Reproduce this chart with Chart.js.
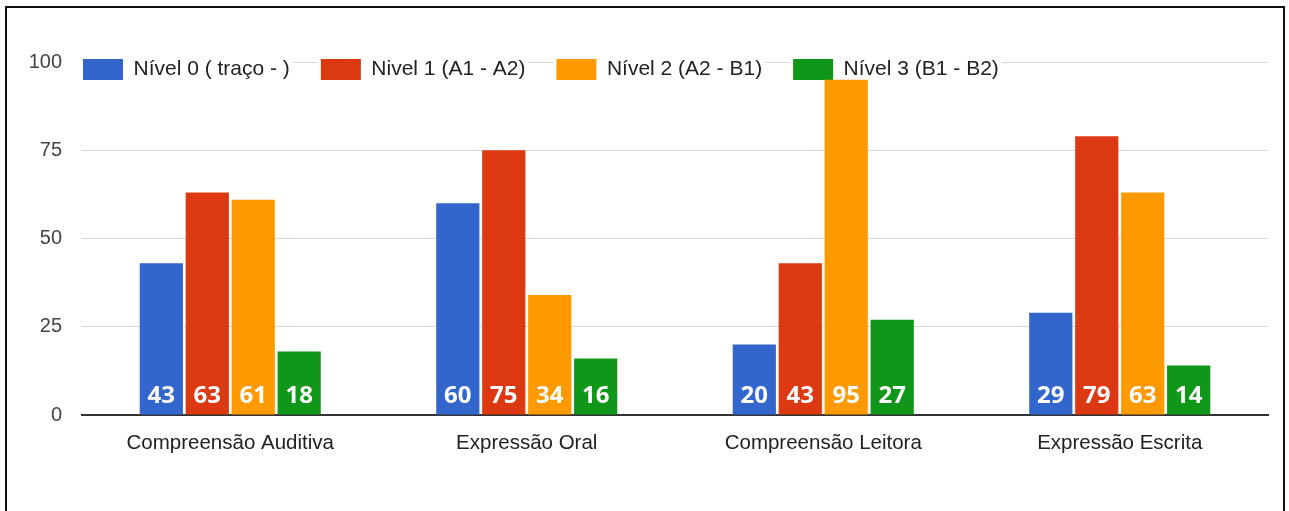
<!DOCTYPE html>
<html>
<head>
<meta charset="utf-8">
<script src="https://cdn.jsdelivr.net/npm/chart.js@4/dist/chart.umd.min.js"></script>
<style>
  html, body { margin: 0; padding: 0; background: #fff; overflow: hidden; }
  #js--chart { position: absolute; left: 0; top: 0; }
  .frame {
    position: absolute; left: 5px; top: 6px; width: 1276px; height: 600px;
    border: 2px solid #111; pointer-events: none;
  }
</style>
</head>
<body>
<canvas id="js--chart" width="1289" height="511"></canvas>
<div class="frame"></div>
<script>
const categories = [
    "Compreensão Auditiva",
    "Expressão Oral",
    "Compreensão Leitora",
    "Expressão Escrita"
];

const seriesNames = [
    "Nível 0 ( traço - )",
    "Nivel 1 (A1 - A2)",
    "Nível 2 (A2 - B1)",
    "Nível 3 (B1 - B2)"
];

const nivel0 = [43, 60, 20, 29];
const nivel1 = [63, 75, 43, 79];
const nivel2 = [61, 34, 95, 63];
const nivel3 = [18, 16, 27, 14];

const yTicks = [0, 25, 50, 75, 100];

const colors = ['#3366cc', '#dc3912', '#ff9900', '#109618'];

Chart.defaults.font.family = '"Liberation Sans", Arial, sans-serif';

// legend sits on the top gridline, with white behind each item
const legendOnTop = {
    id: 'legendOnTop',
    afterLayout(chart) {
        const lg = chart.legend;
        lg.left = 52;
        lg.top = 28;
        lg.bottom = 110;
        lg.height = lg.bottom - lg.top;
        if (!lg.drawPlain) {
            lg.drawPlain = lg.draw;
            lg.draw = function(area) {
                const ctx = this.ctx;
                ctx.save();
                ctx.fillStyle = '#fff';
                this.legendHitBoxes.forEach(function(hb) {
                    ctx.fillRect(hb.left - 3, hb.top - 2, hb.width + 6, hb.height + 4);
                });
                ctx.restore();
                this.drawPlain(area);
            };
        }
    }
};

// white value written near the foot of each bar
const barValues = {
    id: 'barValues',
    afterDatasetsDraw(chart) {
        const ctx = chart.ctx;
        const y = chart.scales.y.getPixelForValue(0) - 12;
        ctx.save();
        ctx.font = 'bold 24px "Open Sans", sans-serif';
        ctx.fillStyle = '#fff';
        ctx.textAlign = 'center';
        ctx.textBaseline = 'alphabetic';
        chart.data.datasets.forEach(function(ds, i) {
            chart.getDatasetMeta(i).data.forEach(function(bar, j) {
                ctx.fillText(String(ds.data[j]), bar.x, y);
            });
        });
        ctx.restore();
    }
};

const values = [nivel0, nivel1, nivel2, nivel3];

const data = {
    labels: categories,
    datasets: seriesNames.map(function(name, i) {
        return {
            label: name,
            data: values[i],
            backgroundColor: colors[i],
            borderWidth: 0,
            categoryPercentage: 0.62,
            barPercentage: 0.94
        };
    })
};

const config = {
    type: 'bar',
    data: data,
    plugins: [legendOnTop, barValues],
    options: {
        responsive: false,
        animation: false,
        layout: { padding: { left: 30, right: 21, top: 22, bottom: 0 } },
        plugins: {
            tooltip: { enabled: false },
            legend: {
                position: 'top',
                align: 'start',
                maxHeight: 40,
                labels: {
                    boxWidth: 40,
                    boxHeight: 21,
                    padding: 31,
                    color: '#222',
                    font: { size: 21 }
                }
            }
        },
        scales: {
            x: {
                grid: { display: false, drawTicks: false },
                border: { color: '#333', width: 2 },
                ticks: { color: '#222', font: { size: 20.5 }, padding: 16 },
                afterFit: function(s) { s.height = 96; }
            },
            y: {
                min: 0,
                max: 100,
                afterBuildTicks: function(s) { s.ticks = yTicks.map(function(v) { return { value: v }; }); },
                grid: { color: '#d9d9d9', drawTicks: false },
                border: { display: false },
                ticks: { color: '#444', font: { size: 20 }, padding: 20 },
                afterFit: function(s) { s.width = 52; }
            }
        }
    }
};

new Chart(document.getElementById("js--chart"), config);
</script>
</body>
</html>
